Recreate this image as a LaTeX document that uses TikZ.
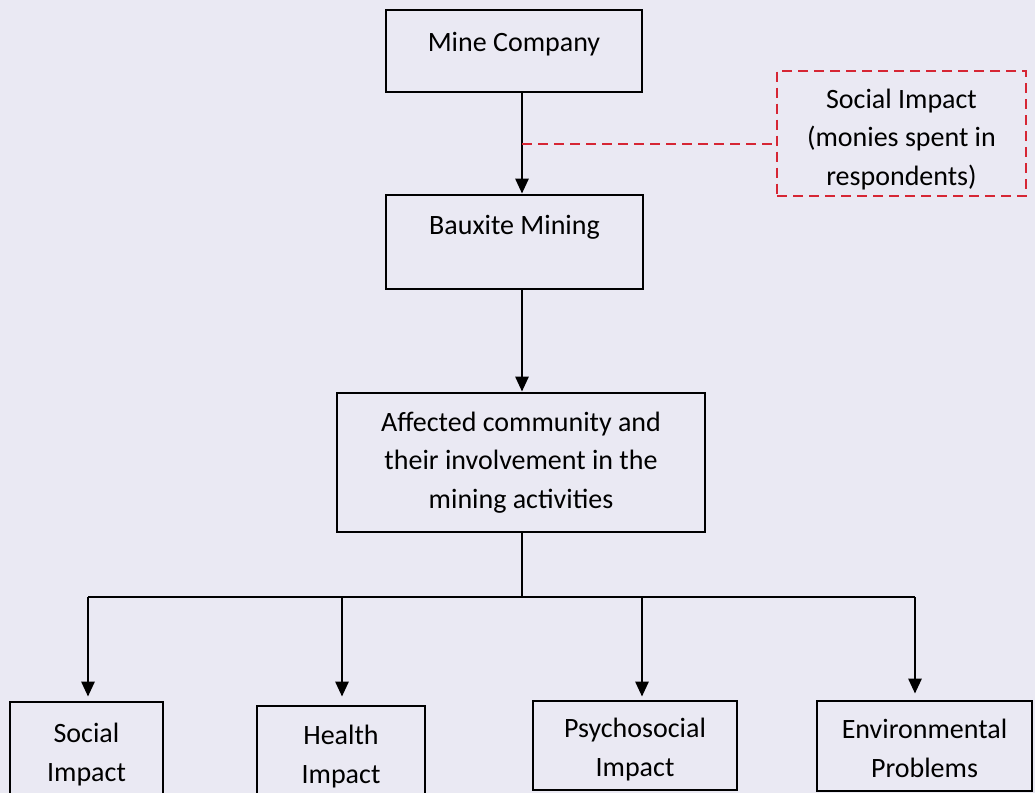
\documentclass[tikz,border=0pt]{standalone}
\usepackage{fontspec}
\setmainfont{Carlito}
\usepackage{xcolor}
\usetikzlibrary{arrows.meta, positioning}
\definecolor{paper}{RGB}{234,233,243}
\definecolor{dashred}{RGB}{214,38,52}

\begin{document}
\begin{tikzpicture}[x=0.5pt,y=-0.5pt,
 box/.style={rectangle,draw=black,line width=1.4pt,align=center,inner sep=0pt,
   font=\fontsize{14}{19.3}\selectfont},
 link/.style={line width=1.4pt,-{Triangle[length=7.5pt,width=6.5pt]}},
 side/.style={draw=dashred,line width=1pt,dash pattern=on 5pt off 3pt}]
 \fill[paper] (0,0) rectangle (1035,793);
 \useasboundingbox (0,0) rectangle (1035,793);
 % main column
 \node[box,minimum width=128pt,text height=20.5pt,text depth=20.5pt] (mine)
   at (514,51) {Mine Company};
 \node[box,minimum width=128.5pt,text height=19.5pt,text depth=27.5pt] (bauxite)
   at (514.5,242) {Bauxite Mining};
 \node[box,minimum width=184pt,minimum height=69.5pt] (community)
   at (521,462.5) {Affected community and\\their involvement in the\\mining activities};
 \node[box,side,minimum width=124.5pt,minimum height=62.5pt] (monies)
   at (901.5,133) {\rule{0pt}{16pt}Social Impact\\(monies spent in\\respondents)};
 % impacts
 \node[box,minimum width=76.5pt,minimum height=49pt] (social)
   at (86.5,751) {\rule{0pt}{13pt}Social\\Impact};
 \node[box,minimum width=84pt,minimum height=48pt] (health)
   at (341,754) {\rule{0pt}{12pt}Health\\Impact};
 \node[box,minimum width=102pt,minimum height=44.5pt] (psycho)
   at (635,745.5) {\rule{0pt}{14pt}Psychosocial\\Impact};
 \node[box,minimum width=107.5pt,minimum height=45pt] (environment)
   at (924.5,746) {\rule{0pt}{12pt}Environmental\\Problems};
 \coordinate (branch) at (522,144);
 \coordinate (split) at (522,597);
 \draw[link] (mine.south -| branch) -- (bauxite.north -| branch);
 \draw[side] (branch) -- (branch -| monies.west);
 \draw[link] (bauxite.south -| branch) -- (community.north -| branch);
 \draw[line width=1.4pt] (community.south -| split) -- (split);
 \draw[line width=1.4pt] ([xshift=0.75pt]social.north |- split)
   -- ([xshift=-4.75pt]environment.north |- split);
 \draw[link,shorten >=2pt] ([xshift=0.75pt]social.north |- split) -- ([xshift=0.75pt]social.north);
 \draw[link,shorten >=4pt] ([xshift=0.5pt]health.north |- split) -- ([xshift=0.5pt]health.north);
 \draw[link,shorten >=1.5pt] ([xshift=3.5pt]psycho.north |- split) -- ([xshift=3.5pt]psycho.north);
 \draw[link,shorten >=3pt] ([xshift=-4.75pt]environment.north |- split) -- ([xshift=-4.75pt]environment.north);
\end{tikzpicture}
\end{document}
